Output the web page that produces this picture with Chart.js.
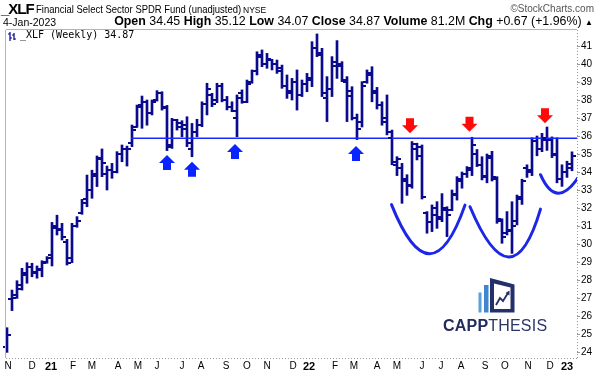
<!DOCTYPE html>
<html lang="en">
<head>
<meta charset="UTF-8">
<title>XLF Weekly</title>
<script src="https://cdn.jsdelivr.net/npm/chart.js"></script>
<style>
  body { margin: 0; background: #fff; font-family: Arial, "Liberation Sans", sans-serif; }
  #wrap { position: relative; width: 599px; height: 374px; overflow: hidden; }
  #wrap canvas { position: absolute; left: 0; top: 0; }
  .t { position: absolute; white-space: nowrap; color: #000; line-height: 1; }
  .b { font-weight: bold; }
  .narrow { transform: scaleX(0.86); transform-origin: 0 0; }
</style>
</head>
<body>
<div id="wrap">
  <canvas id="chart" width="599" height="374"></canvas>

  <div class="t b" style="left:1px; top:1px; font-size:15px; letter-spacing:-1px;">_XLF</div>
  <div class="t narrow" style="left:36px; top:4px; font-size:11px;">Financial Select Sector SPDR Fund (unadjusted)</div>
  <div class="t" style="left:243px; top:6px; font-size:8.5px;">NYSE</div>
  <div class="t" style="right:5px; top:4px; font-size:10px; color:#555;">&copy;StockCharts.com</div>

  <div class="t" style="left:3px; top:17px; font-size:10.5px;">4-Jan-2023</div>
  <div class="t" style="right:6px; top:15px; font-size:12.4px;">
    <span class="b">Open</span> 34.45 <span class="b">High</span> 35.12 <span class="b">Low</span> 34.07
    <span class="b">Close</span> 34.87 <span class="b">Volume</span> 81.2M <span class="b">Chg</span> +0.67 (+1.96%) <span style="font-size:8px;">&#9650;</span>
  </div>

  <svg style="position:absolute; left:8px; top:32px;" width="9" height="9" viewBox="0 0 9 9">
    <path d="M2 0 V9 M0 2 H2 M2 6 H4 M6 1 V8 M4 3 H6 M6 7 H8" stroke="#00008b" stroke-width="1.2" fill="none"/>
  </svg>
  <div class="t" style="left:20px; top:30px; font-size:10px; font-family:'DejaVu Sans Mono', monospace;">_XLF (Weekly) 34.87</div>

  <svg style="position:absolute; left:478px; top:278px;" width="38" height="36" viewBox="0 0 38 36">
    <rect x="0.5" y="14.5" width="3" height="20" fill="#5b9fdc"/>
    <rect x="6" y="7" width="4.5" height="27.5" fill="#3f86cf"/>
    <path d="M12 0 L36.5 6.5 L36.5 34.5 L12 34.5 Z M16 5.5 L32.5 9.5 L32.5 31 L16 31 Z" fill="#24306b" fill-rule="evenodd"/>
    <path d="M18 27 L22 20 L25 23 L30 15" stroke="#24306b" stroke-width="1.8" fill="none"/>
    <path d="M31.5 12.5 L31.5 17.5 L27.5 15 Z" fill="#24306b"/>
  </svg>
  <div class="t" style="left:443px; top:318px; font-size:16px; color:#222c5e; letter-spacing:0.2px;"><span class="b">CAPP</span><span style="color:#2c3766;">THESIS</span></div>
</div>

<script>
// weekly bars, first week = 2-Nov-2020, last week = 2-Jan-2023
const opens = [
  24.30, 26.95, 27.15, 27.50, 28.30, 28.70, 28.40, 28.55, 29.00, 29.40,
  31.00, 30.85, 30.10, 29.20, 31.00, 31.70, 32.50, 33.00, 33.80, 34.80,
  33.90, 34.10, 34.00, 35.00, 35.30, 35.60, 36.50, 37.70, 37.90, 37.30,
  38.00, 38.40, 37.55, 35.50, 36.90, 36.70, 36.60, 35.30, 36.20, 36.60,
  37.80, 38.30, 38.00, 38.80, 38.00, 37.60, 37.00, 38.40, 37.90, 39.00,
  39.60, 40.50, 40.00, 40.20, 40.00, 39.80, 38.80, 38.50, 39.00, 38.30,
  38.90, 39.20, 40.90, 40.60, 38.10, 38.60, 39.90, 40.00, 39.00, 38.20,
  37.00, 36.80, 39.00, 39.50, 38.40, 37.70, 37.00, 35.90, 34.40, 34.20,
  33.60, 33.30, 35.30, 35.40, 31.70, 31.20, 32.00, 31.40, 31.90, 31.90,
  32.70, 33.50, 33.90, 34.10, 35.00, 34.40, 33.80, 34.90, 33.60, 31.30,
  30.60, 30.70, 31.30, 32.60, 34.20, 34.00, 35.70, 35.30, 35.80, 35.80,
  35.00, 33.60, 34.00, 34.45
];
const highs = [
  25.35, 27.44, 27.96, 28.65, 28.96, 28.93, 28.78, 29.07, 29.30, 31.20,
  31.60, 31.15, 30.26, 31.15, 31.52, 32.48, 33.83, 34.10, 34.89, 35.28,
  34.33, 34.48, 35.13, 35.50, 35.44, 36.61, 37.72, 38.22, 38.00, 38.00,
  38.52, 38.46, 37.70, 36.98, 36.93, 36.85, 37.07, 36.70, 36.93, 37.90,
  38.93, 38.37, 38.93, 38.93, 38.20, 37.90, 38.28, 38.56, 39.11, 39.67,
  40.68, 40.78, 40.59, 40.26, 40.22, 39.94, 39.39, 39.20, 39.67, 39.11,
  39.48, 41.24, 41.67, 40.87, 39.30, 40.41, 41.30, 40.13, 39.30, 38.74,
  37.22, 39.02, 39.67, 39.85, 38.70, 37.90, 38.28, 36.33, 34.85, 34.48,
  33.85, 35.69, 35.60, 35.50, 31.80, 32.17, 32.35, 32.80, 32.07, 33.00,
  33.74, 34.00, 34.30, 35.93, 35.25, 34.85, 35.00, 35.15, 33.74, 31.40,
  31.80, 32.35, 32.72, 33.60, 34.40, 35.90, 36.00, 36.15, 36.50, 35.95,
  35.90, 34.40, 34.60, 35.12
];
const lows = [
  23.98, 26.30, 26.98, 27.44, 27.82, 28.18, 28.10, 28.18, 28.93, 28.78,
  30.50, 30.22, 28.83, 28.96, 30.93, 31.65, 32.07, 32.54, 33.19, 33.74,
  33.00, 33.65, 33.95, 34.57, 34.33, 35.41, 36.48, 36.43, 36.60, 37.17,
  37.94, 37.44, 35.19, 35.31, 36.33, 35.96, 35.41, 34.85, 35.96, 36.52,
  37.17, 37.63, 37.85, 37.90, 37.45, 37.35, 35.96, 37.82, 37.85, 38.93,
  39.39, 39.85, 39.76, 39.67, 39.48, 38.65, 38.09, 38.00, 37.44, 38.19,
  38.46, 38.74, 40.41, 38.19, 36.80, 38.19, 39.20, 39.02, 36.80, 36.89,
  35.80, 36.50, 38.93, 37.90, 37.50, 36.60, 36.06, 34.40, 33.80, 32.26,
  32.70, 33.10, 34.67, 32.50, 30.60, 30.69, 30.87, 31.24, 30.41, 31.85,
  32.44, 33.10, 33.70, 33.80, 34.30, 33.56, 33.40, 33.50, 31.15, 30.04,
  30.50, 29.48, 31.06, 32.20, 33.70, 33.80, 34.90, 35.13, 35.20, 34.80,
  33.40, 33.20, 33.70, 34.07
];
const closes = [
  24.94, 26.98, 27.72, 28.40, 28.75, 28.45, 28.60, 28.95, 29.25, 30.90,
  30.80, 30.40, 28.95, 31.00, 31.30, 32.30, 33.00, 33.90, 34.75, 34.50,
  34.10, 34.00, 35.00, 35.30, 35.30, 36.35, 37.60, 37.90, 37.30, 37.90,
  38.40, 37.60, 35.40, 36.90, 36.50, 36.40, 35.60, 36.20, 36.60, 37.80,
  38.60, 37.80, 38.80, 38.00, 37.60, 37.40, 38.10, 37.90, 38.90, 39.60,
  40.40, 40.00, 40.30, 40.00, 39.60, 38.80, 38.40, 39.00, 38.30, 38.90,
  39.10, 40.90, 40.50, 38.40, 38.60, 40.10, 39.90, 39.10, 38.50, 37.00,
  36.40, 38.80, 39.40, 38.50, 37.70, 36.80, 36.20, 34.55, 34.70, 33.50,
  33.20, 35.55, 34.90, 32.60, 31.20, 31.60, 31.50, 32.00, 31.60, 32.80,
  33.60, 33.90, 34.20, 35.50, 34.40, 33.70, 34.80, 33.70, 31.40, 30.40,
  30.80, 31.00, 32.50, 33.50, 34.10, 35.70, 35.30, 35.90, 35.80, 34.95,
  33.60, 34.00, 34.20, 34.87
];

const monthLabels = ['N','D','21','F','M','A','M','J','J','A','S','O','N','D','22',
                     'F','M','A','M','J','J','A','S','O','N','D','23'];
const monthTickWeeks = [0.2, 5, 8.8, 13.2, 17, 22.2, 26.2, 30, 35, 38.8, 43.8, 48, 52, 57.2, 60.4,
                        65.6, 69.4, 74, 78, 83, 86.8, 90.8, 95.6, 99.6, 104.2, 108.6, 112];
const priceTicks = [24, 25, 26, 27, 28, 29, 30, 31, 32, 33, 34, 35, 36, 37, 38, 39, 40, 41];

// annotations: [week, price]
const supportLevel = 35.87;
const supportStart = 24.9;
const upArrows = [[32, 34.94], [37, 34.57], [45.6, 35.56], [69.8, 35.44]];
const downArrows = [[80.6, 36.15], [92.5, 36.24], [107.6, 36.71]];
const cups = [
  [[76.9, 32.19], [84.5, 29.46], [91.6, 32.16]],
  [[92.6, 32.07], [100.3, 29.28], [106.7, 31.94]],
  [[106.7, 33.85], [110.3, 32.82], [114.6, 33.85]]
];

const barColor = '#0a0a8c';
const weeks = opens.map((_, i) => i);

// open tick to the left, close tick to the right
const ohlcTicks = {
  id: 'ohlcTicks',
  afterDatasetsDraw(chart) {
    const { ctx, scales: { x, y } } = chart;
    ctx.save();
    ctx.strokeStyle = barColor;
    ctx.lineWidth = 2;
    weeks.forEach(i => {
      const px = x.getPixelForValue(i);
      const po = Math.round(y.getPixelForValue(opens[i]));
      const pc = Math.round(y.getPixelForValue(closes[i]));
      ctx.beginPath();
      ctx.moveTo(px - 4, po);
      ctx.lineTo(px, po);
      ctx.moveTo(px, pc);
      ctx.lineTo(px + 4, pc);
      ctx.stroke();
    });
    ctx.restore();
  }
};

function blockArrow(ctx, x, y, dir, color) {
  // dir 1: tip at top pointing up, -1: tip at bottom pointing down
  const d = dir;
  ctx.beginPath();
  ctx.moveTo(x, y);
  ctx.lineTo(x + 8, y + 8 * d);
  ctx.lineTo(x + 4, y + 8 * d);
  ctx.lineTo(x + 4, y + 15 * d);
  ctx.lineTo(x - 4, y + 15 * d);
  ctx.lineTo(x - 4, y + 8 * d);
  ctx.lineTo(x - 8, y + 8 * d);
  ctx.closePath();
  ctx.fillStyle = color;
  ctx.fill();
}

const markup = {
  id: 'markup',
  afterDatasetsDraw(chart) {
    const { ctx, chartArea: a, scales: { x, y } } = chart;
    ctx.save();
    ctx.beginPath();
    ctx.rect(a.left, a.top, a.right - a.left, a.bottom - a.top);
    ctx.clip();

    ctx.strokeStyle = '#1c26e6';
    ctx.lineWidth = 3;
    ctx.lineCap = 'round';
    cups.forEach(([p0, v, p2]) => {
      const x0 = x.getPixelForValue(p0[0]), y0 = y.getPixelForValue(p0[1]);
      const xv = x.getPixelForValue(v[0]), yv = y.getPixelForValue(v[1]);
      const x2 = x.getPixelForValue(p2[0]), y2 = y.getPixelForValue(p2[1]);
      ctx.beginPath();
      ctx.moveTo(x0, y0);
      ctx.quadraticCurveTo(2 * xv - (x0 + x2) / 2, 2 * yv - (y0 + y2) / 2, x2, y2);
      ctx.stroke();
    });

    upArrows.forEach(([w, p]) => blockArrow(ctx, x.getPixelForValue(w), y.getPixelForValue(p), 1, '#0a24ff'));
    downArrows.forEach(([w, p]) => blockArrow(ctx, x.getPixelForValue(w), y.getPixelForValue(p), -1, '#ff0a0a'));
    ctx.restore();
  },
  afterDraw(chart) {
    const { ctx, chartArea: a } = chart;
    ctx.save();
    ctx.strokeStyle = '#b4b4b4';
    ctx.lineWidth = 1;
    ctx.beginPath();
    ctx.moveTo(a.left - 0.5, a.top);
    ctx.lineTo(a.left - 0.5, a.bottom);
    ctx.moveTo(a.left, a.top - 0.5);
    ctx.lineTo(a.right, a.top - 0.5);
    ctx.stroke();
    ctx.setLineDash([1, 2]);
    ctx.strokeStyle = '#9a9a9a';
    ctx.beginPath();
    ctx.moveTo(a.right + 0.5, a.top);
    ctx.lineTo(a.right + 0.5, a.bottom);
    ctx.moveTo(a.left, a.bottom + 0.5);
    ctx.lineTo(a.right, a.bottom + 0.5);
    ctx.stroke();
    ctx.restore();
  }
};

const ctx = document.getElementById('chart').getContext('2d');
new Chart(ctx, {
  type: 'bar',
  data: {
    datasets: [
      {
        type: 'line',
        data: [{ x: supportStart, y: supportLevel }, { x: 114, y: supportLevel }],
        borderColor: '#1a2aff',
        borderWidth: 1.5,
        pointRadius: 0,
        order: 0
      },
      {
        type: 'bar',
        data: weeks.map(i => ({ x: i, y: [lows[i], highs[i]] })),
        backgroundColor: barColor,
        barThickness: 2,
        order: 1
      }
    ]
  },
  options: {
    responsive: false,
    animation: false,
    devicePixelRatio: 1,
    layout: { padding: { left: 6, top: 30, right: 0, bottom: 0 } },
    plugins: { legend: { display: false }, tooltip: { enabled: false } },
    scales: {
      x: {
        type: 'linear',
        min: -0.2,
        max: 114,
        offset: false,
        afterBuildTicks: s => { s.ticks = monthTickWeeks.map(v => ({ value: v })); },
        afterFit: s => { s.height = 16; },
        grid: { display: false, drawTicks: false },
        border: { display: false },
        ticks: {
          autoSkip: false,
          maxRotation: 0,
          padding: 2,
          color: '#000',
          callback: (v, i) => monthLabels[i],
          font: c => ({
            family: 'Arial',
            size: /^\d/.test(monthLabels[c.index]) ? 11 : 10,
            weight: /^\d/.test(monthLabels[c.index]) ? 'bold' : 'normal'
          })
        }
      },
      y: {
        position: 'right',
        min: 23.667,
        max: 41.889,
        afterBuildTicks: s => { s.ticks = priceTicks.map(v => ({ value: v })); },
        afterFit: s => { s.width = 22; },
        grid: { drawOnChartArea: false, drawTicks: true, tickLength: 3, color: '#9a9a9a' },
        border: { display: false },
        ticks: { padding: 1, color: '#000', font: { family: 'Arial', size: 10 } }
      }
    }
  },
  plugins: [ohlcTicks, markup]
});
</script>
</body>
</html>
